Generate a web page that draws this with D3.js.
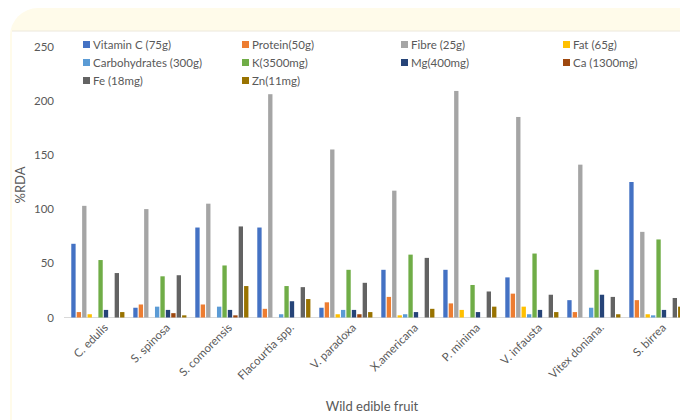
<!DOCTYPE html>
<html>
<head>
<meta charset="utf-8">
<script src="https://cdn.jsdelivr.net/npm/d3@7"></script>
<style>
  body { margin: 0; background: #fff; }
  text { font-family: Lato, "Open Sans", sans-serif; fill: #595959; }
</style>
</head>
<body>
<svg id="chart" width="680" height="420"></svg>
<script>
// CHART DATA
const fruits = ["C. edulis", "S. spinosa", "S. comorensis", "Flacourtia spp.", "V. paradoxa",
  "X.americana", "P. minima", "V. infausta", "Vitex doniana.", "S. birrea"];
const seriesNames = ["Vitamin C (75g)", "Protein(50g)", "Fibre (25g)", "Fat (65g)",
  "Carbohydrates (300g)", "K(3500mg)", "Mg(400mg)", "Ca (1300mg)", "Fe (18mg)", "Zn(11mg)"];
const seriesColors = ["#4472C4", "#ED7D31", "#A5A5A5", "#FFC000", "#5B9BD5",
  "#70AD47", "#264478", "#9E480E", "#636363", "#997300"];
const vitaminC = [68, 9, 83, 83, 9, 44, 44, 37, 16, 125];
const protein = [5, 12, 12, 8, 14, 19, 13, 22, 5, 16];
const fibre = [103, 100, 105, 206, 155, 117, 209, 185, 141, 79];
const fat = [3, 0, 0, 0, 3, 2, 7, 10, 0, 3];
const carbs = [0, 10, 10, 3, 7, 3, 0, 3, 9, 2];
const potassium = [53, 38, 48, 29, 44, 58, 30, 59, 44, 72];
const magnesium = [7, 7, 7, 15, 7, 5, 5, 7, 21, 7];
const calcium = [0, 4, 2, 0, 3, 0, 0, 0, 0, 0];
const iron = [41, 39, 84, 28, 32, 55, 24, 21, 19, 18];
const zinc = [5, 2, 29, 17, 5, 8, 10, 5, 3, 10];
const yTicks = [0, 50, 100, 150, 200, 250];

const seriesValues = [vitaminC, protein, fibre, fat, carbs, potassium, magnesium, calcium, iron, zinc];

const svg = d3.select("#chart");

// PANEL BACKGROUND
svg.append("rect").attr("x", 10).attr("y", 8).attr("width", 700).attr("height", 440)
  .attr("rx", 28).attr("fill", "#FFFBEA");
svg.append("rect").attr("x", 12).attr("y", 31).attr("width", 700).attr("height", 420)
  .attr("fill", "#fff");
svg.append("line").attr("x1", 12).attr("x2", 680).attr("y1", 31).attr("y2", 31)
  .attr("stroke", "#ECE8DC");

// SCALES
const y = d3.scaleLinear().domain([0, 250]).range([317.5, 46.5]);
const x = d3.scaleBand().domain(fruits).range([64, 689.7]).paddingInner(0.108).paddingOuter(0.1);
const xSub = d3.scaleBand().domain(d3.range(seriesNames.length)).range([0, x.bandwidth()]).padding(0.2);

// Y AXIS (labels only)
const yAxis = svg.append("g").attr("transform", "translate(54,0)")
  .call(d3.axisLeft(y).tickValues(yTicks).tickSize(0).tickPadding(0));
yAxis.select(".domain").remove();
yAxis.selectAll("text").style("font-size", "11.5px").attr("fill", "#595959");

// BASELINE
svg.append("line").attr("x1", 64).attr("x2", 680).attr("y1", y(0)).attr("y2", y(0))
  .attr("stroke", "#D9D9D9");

// BARS
const groups = svg.append("g").selectAll("g").data(fruits).join("g")
  .attr("transform", d => `translate(${x(d)},0)`);
groups.selectAll("rect")
  .data((d, i) => seriesValues.map((vals, s) => ({ s, v: vals[i] })))
  .join("rect")
  .attr("x", d => xSub(d.s))
  .attr("width", xSub.bandwidth())
  .attr("y", d => y(d.v))
  .attr("height", d => y(0) - y(d.v))
  .attr("fill", d => seriesColors[d.s]);

// CATEGORY LABELS
const xAxis = svg.append("g").attr("transform", `translate(0,${y(0) + 8})`)
  .call(d3.axisBottom(x).tickSize(0).tickPadding(0));
xAxis.select(".domain").remove();
xAxis.selectAll("text")
  .style("font-size", "11.5px")
  .attr("fill", "#595959")
  .attr("text-anchor", "end")
  .attr("dy", "0.35em")
  .attr("transform", "translate(8,0) rotate(-45)");

// AXIS TITLES
svg.append("text").attr("x", 372).attr("y", 411).attr("text-anchor", "middle")
  .style("font-size", "13px").text("Wild edible fruit");
svg.append("text").attr("transform", "translate(25,185) rotate(-90)").attr("text-anchor", "middle")
  .style("font-size", "13px").text("%RDA");

// LEGEND
const legendCols = [83, 242, 401, 563];
const legend = svg.append("g").selectAll("g").data(seriesNames).join("g")
  .attr("transform", (d, i) => `translate(${legendCols[i % 4]},${45 + Math.floor(i / 4) * 18})`);
legend.append("rect").attr("x", 0).attr("y", -4).attr("width", 7).attr("height", 7)
  .attr("fill", (d, i) => seriesColors[i]);
legend.append("text").attr("x", 10).attr("y", 0).attr("dy", "0.35em")
  .style("font-size", "11.5px").text(d => d);
</script>
</body>
</html>
